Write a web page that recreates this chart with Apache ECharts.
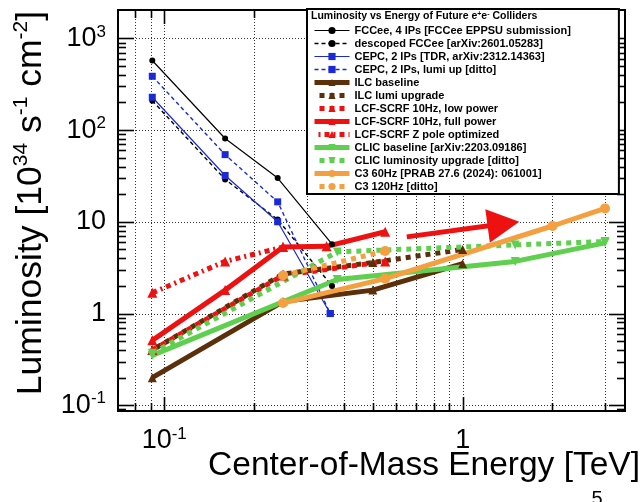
<!DOCTYPE html>
<html>
<head>
<meta charset="utf-8">
<script src="https://cdn.jsdelivr.net/npm/echarts@6/dist/echarts.min.js"></script>
<style>html,body{margin:0;padding:0;background:#fff}#chart{width:642px;height:502px}</style>
</head>
<body>
<div id="chart"></div>
<script>
// ---- data (energies in TeV, luminosity in 1e34 cm^-2 s^-1) ----
const fccX = [0.0912, 0.16, 0.24, 0.365];
const fcc4IP = [573, 81, 30, 5.7];
const fccDescoped = [209, 29, 10.6, 2.0];
const cepcX = [0.0912, 0.16, 0.24, 0.36];
const cepc2IP = [228, 32, 10, 1.0];
const cepcLumiUp = [386, 54, 16.5, 1.0];
const ilcX = [0.0912, 0.25, 0.5, 1.0];
const ilcBaseline = [0.2, 1.35, 1.8, 3.5];
const ilcLumiUp = [0.4, 2.7, 3.6, 5.0];
const lcfLowX = [0.0912, 0.25, 0.55];
const lcfLow = [0.40, 2.6, 3.7];
const lcfFullX = [0.0912, 0.16, 0.25, 0.35, 0.55];
const lcfFull = [0.51, 1.8, 5.3, 5.4, 7.8];
const lcfZX = [0.0912, 0.16, 0.25];
const lcfZ = [1.68, 3.7, 5.3];
const lcfArrowX = [0.65, 1.37];
const lcfArrowY = [6.85, 9.5];
const clicX = [0.0912, 0.38, 1.5, 3.0];
const clicBaseline = [0.35, 2.35, 3.7, 5.9];
const clicLumiUp = [0.37, 4.7, 5.6, 6.1];
const c3X60 = [0.25, 0.55, 2.0, 3.0];
const c3_60 = [1.3, 2.4, 9.0, 14];
const c3X120 = [0.25, 0.55];
const c3_120 = [2.6, 4.8];
const xTicks = [0.08, 0.09, 0.1, 0.2, 0.3, 0.4, 0.5, 0.6, 0.7, 0.8, 0.9, 1, 2, 3];
const yTicks = [0.09, 0.1, 0.2, 0.3, 0.4, 0.5, 0.6, 0.7, 0.8, 0.9, 1, 2, 3, 4, 5, 6, 7, 8, 9,
  10, 20, 30, 40, 50, 60, 70, 80, 90, 100, 200, 300, 400, 500, 600, 700, 800, 900, 1000];

const FONT = 'Liberation Sans';
const zip = (xs, ys) => xs.map((x, i) => [x, ys[i]]);
const isPow10 = v => Math.abs(Math.log10(v) - Math.round(Math.log10(v))) < 1e-6;
function powLabel(v) {
  if (!isPow10(v)) return '';
  const e = Math.round(Math.log10(v));
  if (e === 0) return '{b|1}';
  if (e === 1) return '{b|10}';
  return '{b|10}{s|' + e + '}';
}
const richTicks = {
  b: { fontFamily: FONT, fontSize: 27, lineHeight: 30, color: '#000' },
  s: { fontFamily: FONT, fontSize: 17, lineHeight: 13, verticalAlign: 'top', color: '#000' }
};

const triDown = 'path://M0,0 L10,0 L5,9 Z';

function lineSeries(name, xs, ys, color, width, dash, symbol, symbolSize, extra) {
  return Object.assign({
    name, type: 'line', data: zip(xs, ys),
    lineStyle: { color, width, type: dash, cap: 'butt' },
    itemStyle: { color },
    symbol, symbolSize, showSymbol: true,
    animation: false, silent: true
  }, extra || {});
}

function xTickItem(params, api) {
  const cs = params.coordSys;
  const p = api.coord([api.value(0), api.value(1)]);
  const x = Math.round(p[0]) + 0.5;
  const major = api.value(2) === 1;
  const len = major ? 14 : 8;
  const bot = cs.y + cs.height;
  return { type: 'group', children: [
    { type: 'line', shape: { x1: x, y1: cs.y, x2: x, y2: bot }, style: { stroke: '#333', lineWidth: 1, lineDash: [1, 2] } },
    { type: 'line', shape: { x1: x, y1: bot, x2: x, y2: bot - len }, style: { stroke: '#000', lineWidth: 1.6 } },
    { type: 'line', shape: { x1: x, y1: cs.y, x2: x, y2: cs.y + len }, style: { stroke: '#000', lineWidth: 1.6 } }
  ]};
}
function yTickItem(params, api) {
  const cs = params.coordSys;
  const p = api.coord([api.value(0), api.value(1)]);
  const y = Math.round(p[1]) + 0.5;
  const major = api.value(2) === 1;
  const len = major ? 16 : 8;
  const right = cs.x + cs.width;
  const ch = [
    { type: 'line', shape: { x1: cs.x, y1: y, x2: cs.x + len, y2: y }, style: { stroke: '#000', lineWidth: 1.6 } },
    { type: 'line', shape: { x1: right, y1: y, x2: right - len, y2: y }, style: { stroke: '#000', lineWidth: 1.6 } }
  ];
  if (major) ch.unshift({ type: 'line', shape: { x1: cs.x, y1: y, x2: right, y2: y }, style: { stroke: '#333', lineWidth: 1, lineDash: [1, 2] } });
  return { type: 'group', children: ch };
}

const legendNames = [
  'FCCee, 4 IPs [FCCee EPPSU submission]',
  'descoped FCCee [arXiv:2601.05283]',
  'CEPC, 2 IPs [TDR, arXiv:2312.14363]',
  'CEPC, 2 IPs, lumi up [ditto]',
  'ILC baseline',
  'ILC lumi upgrade',
  'LCF-SCRF 10Hz, low power',
  'LCF-SCRF 10Hz, full power',
  'LCF-SCRF Z pole optimized',
  'CLIC baseline [arXiv:2203.09186]',
  'CLIC luminosity upgrade [ditto]',
  'C3 60Hz [PRAB 27.6 (2024): 061001]',
  'C3 120Hz [ditto]'
];
const RED = '#ee1111', BROWN = '#5c2f0b', GREEN = '#5fcf4f', ORANGE = '#f5a040', BLUE = '#1a2bd6';

const series = [
  { type: 'custom', name: 'xt', renderItem: xTickItem, data: xTicks.map(v => [v, 1, isPow10(v) ? 1 : 0]), encode: { x: 0, y: 1 }, silent: true, animation: false, z: 1 },
  { type: 'custom', name: 'yt', renderItem: yTickItem, data: yTicks.map(v => [1, v, isPow10(v) ? 1 : 0]), encode: { x: 0, y: 1 }, silent: true, animation: false, z: 1 },
  lineSeries(legendNames[0], fccX, fcc4IP, '#000', 1.2, 'solid', 'circle', 6),
  lineSeries(legendNames[1], fccX, fccDescoped, '#000', 1.4, [4, 3], 'circle', 6),
  lineSeries(legendNames[2], cepcX, cepc2IP, BLUE, 1.2, 'solid', 'rect', 7),
  lineSeries(legendNames[3], cepcX, cepcLumiUp, BLUE, 1.4, [4, 3], 'rect', 7),
  lineSeries(legendNames[4], ilcX, ilcBaseline, BROWN, 5, 'solid', 'triangle', 9),
  lineSeries(legendNames[5], ilcX, ilcLumiUp, BROWN, 5, [5, 5], 'triangle', 9, { lineStyle: { color: BROWN, width: 5, type: [5, 5], dashOffset: 5, cap: 'butt' } }),
  lineSeries(legendNames[6], lcfLowX, lcfLow, RED, 5, [5, 5], 'triangle', 10),
  lineSeries(legendNames[7], lcfFullX, lcfFull, RED, 5, 'solid', 'triangle', 10, {
    markLine: {
      silent: true, animation: false,
      symbol: ['none', 'triangle'], symbolSize: [34, 32],
      label: { show: false },
      lineStyle: { color: RED, width: 5, type: 'solid' },
      data: [[{ coord: [lcfArrowX[0], lcfArrowY[0]] }, { coord: [lcfArrowX[1], lcfArrowY[1]] }]]
    }
  }),
  lineSeries(legendNames[8], lcfZX, lcfZ, RED, 5, [5, 4, 2, 4], 'triangle', 10),
  lineSeries(legendNames[9], clicX, clicBaseline, GREEN, 5, 'solid', triDown, 9),
  lineSeries(legendNames[10], clicX, clicLumiUp, GREEN, 5, [5, 5], triDown, 9),
  lineSeries(legendNames[11], c3X60, c3_60, ORANGE, 5, 'solid', 'circle', 10),
  lineSeries(legendNames[12], c3X120, c3_120, ORANGE, 5, [5, 5], 'circle', 10)
];

const chart = echarts.init(document.getElementById('chart'), null, { renderer: 'canvas' });
chart.setOption({
  animation: false,
  backgroundColor: '#fff',
  textStyle: { fontFamily: FONT },
  title: {
    text: 'Luminosity vs Energy of Future e{s|+}e{s|-} Colliders',
    left: 311, top: 11, padding: 0, z: 20,
    textStyle: { fontFamily: FONT, fontSize: 10.5, fontWeight: 'bold', color: '#000',
      rich: { s: { fontFamily: FONT, fontSize: 7, fontWeight: 'bold', verticalAlign: 'top', lineHeight: 8 } } }
  },
  legend: {
    data: legendNames,
    orient: 'vertical', left: 307, top: 9,
    padding: [15, 48, 1, 5],
    itemWidth: 35, itemHeight: 9, itemGap: 0,
    lineStyle: { width: 'inherit' },
    backgroundColor: '#fff', borderColor: '#000', borderWidth: 2,
    textStyle: { fontFamily: FONT, fontSize: 11, fontWeight: 'bold', color: '#000', lineHeight: 13 },
    selectedMode: false, z: 10
  },
  grid: { left: 118, right: 17, top: 10, bottom: 91, show: true, borderColor: '#000', borderWidth: 2, backgroundColor: '#fff', containLabel: false, outerBoundsMode: 'none' },
  xAxis: {
    type: 'log', logBase: 10, min: 0.07, max: 3.5,
    axisLine: { show: false }, axisTick: { show: false }, splitLine: { show: false }, minorTick: { show: false },
    axisLabel: { formatter: powLabel, rich: richTicks, margin: 15, showMinLabel: false, showMaxLabel: false, hideOverlap: false }
  },
  yAxis: {
    type: 'log', logBase: 10, min: 0.0866, max: 2037,
    axisLine: { show: false }, axisTick: { show: false }, splitLine: { show: false }, minorTick: { show: false },
    axisLabel: { formatter: powLabel, rich: richTicks, margin: 12, showMinLabel: false, showMaxLabel: false, hideOverlap: false }
  },
  graphic: [
    { type: 'text', x: 31, y: 203, rotation: Math.PI / 2, silent: true,
      style: { text: '{a|Luminosity [10}{s|34}{a| s}{s|-1}{a| cm}{s|-2}{a|]}', align: 'center', verticalAlign: 'middle',
        rich: { a: { fontFamily: FONT, fontSize: 35.5, lineHeight: 40, fill: '#000' },
                s: { fontFamily: FONT, fontSize: 21, lineHeight: 17, verticalAlign: 'top', fill: '#000' } } } },
    { type: 'text', x: 640, y: 466, silent: true,
      style: { text: 'Center-of-Mass Energy [TeV]', align: 'right', verticalAlign: 'middle', fontFamily: FONT, fontSize: 33.5, fill: '#000' } },
    { type: 'text', x: 597, y: 489, silent: true,
      style: { text: '5', align: 'center', verticalAlign: 'top', fontFamily: FONT, fontSize: 20, fill: '#000' } }
  ],
  series
});
</script>
</body>
</html>
